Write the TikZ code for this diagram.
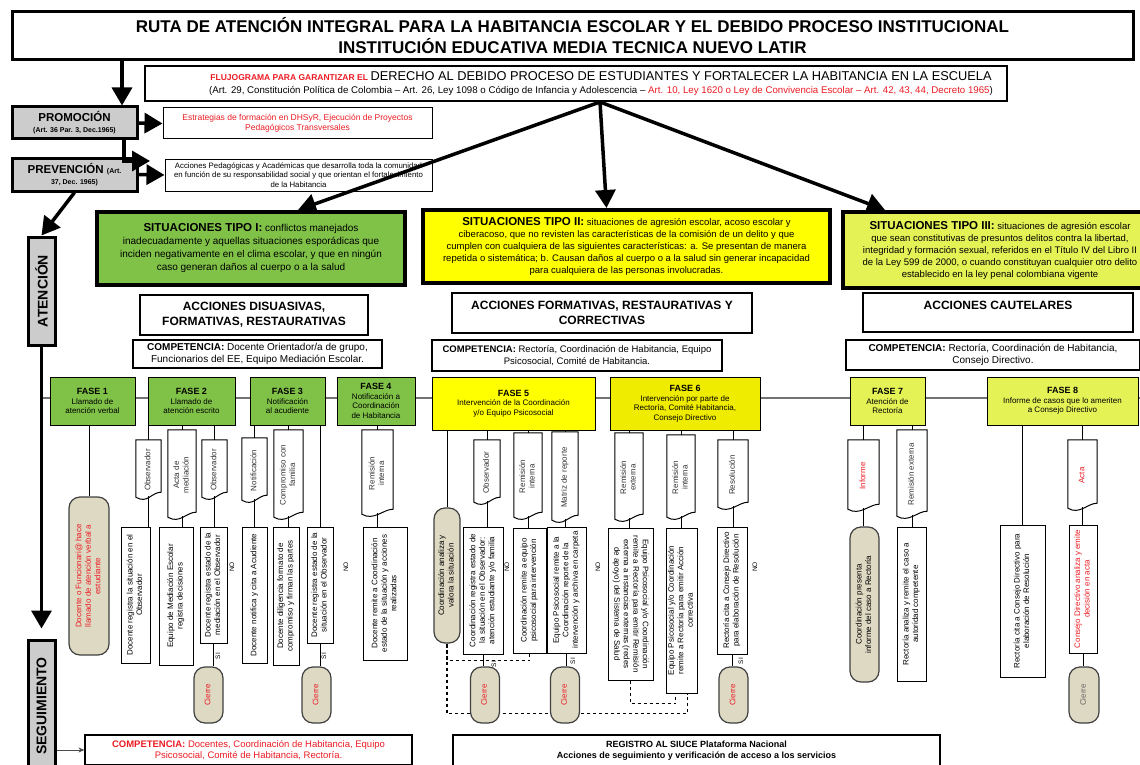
\documentclass[tikz,border=0pt]{standalone}
\usepackage{fontspec}
\setmainfont{Liberation Sans}
\usepackage{graphicx}
\usetikzlibrary{arrows.meta,positioning}

\definecolor{verde}{RGB}{128,194,72}
\definecolor{amarillo}{RGB}{255,255,0}
\definecolor{amarillob}{RGB}{240,236,0}
\definecolor{lima}{RGB}{228,242,86}
\definecolor{grisclaro}{RGB}{204,204,204}
\definecolor{tierra}{RGB}{221,217,195}
\definecolor{rojo}{RGB}{236,28,36}

\newcommand\vtxt[2][90]{\rotatebox{#1}{\begin{tabular}{@{}c@{}}#2\end{tabular}}}
\newcommand\ftit[1]{{\fontsize{9}{11}\selectfont\bfseries FASE #1}}

\tikzset{
	tam/.style 2 args={minimum width=#1,minimum height=#2},
	caja/.style={draw,align=center,inner sep=1pt},
	titulo/.style={caja,line width=3pt,font=\fontsize{17}{21}\selectfont\bfseries},
	gris/.style={caja,line width=3pt,fill=grisclaro},
	tipo/.style={caja,line width=4pt},
	accion/.style={caja,line width=1.3pt,font=\fontsize{12}{15}\selectfont\bfseries},
	compet/.style={caja,line width=1.3pt,font=\fontsize{10}{12}\selectfont},
	fase/.style={caja,line width=1pt,font=\fontsize{8}{9.5}\selectfont},
	vbox/.style={draw,line width=1pt,inner sep=0pt,font=\fontsize{8}{9.5}\selectfont},
	docu/.style={inner sep=0pt,text=black!80,font=\fontsize{8}{9.5}\selectfont},
	term/.style={draw=black!75,line width=1.2pt,fill=tierra,rounded corners=11pt,inner sep=0pt,font=\fontsize{8}{9.5}\selectfont},
	marca/.style={rotate=90,inner sep=0pt,font=\fontsize{6.5}{7}\selectfont},
	flecha/.style={line width=3.5pt,-{Triangle[length=18pt,width=20pt]}},
	enlace/.style={line width=1pt},
	punteada/.style={line width=1.2pt,dashed},
	fila/.style={line width=2.2pt,black!55},
}

\begin{document}
\begin{tikzpicture}[x=1pt,y=-1pt]
	\useasboundingbox (0,0) rectangle (1140,765);
	\fill[white] (0,0) rectangle (1140,765);

	\node[titulo,tam={1121}{48}] (titulo) at (572.5,36)
		{RUTA DE ATENCIÓN INTEGRAL PARA LA HABITANCIA ESCOLAR Y EL DEBIDO PROCESO INSTITUCIONAL\\
		INSTITUCIÓN EDUCATIVA MEDIA TECNICA NUEVO LATIR};
	\node[caja,line width=1.2pt,tam={862}{35}] (flujo) at (576,83.5) {};
	\node[align=center,inner sep=0pt,font=\fontsize{9.7}{13}\selectfont] (flujotxt) at (601,84)
		{{\color{rojo}\fontsize{8.5}{9}\selectfont\bfseries FLUJOGRAMA PARA GARANTIZAR EL}
		{\fontsize{12.8}{14}\selectfont DERECHO AL DEBIDO PROCESO DE ESTUDIANTES Y FORTALECER LA HABITANCIA EN LA ESCUELA}\\
		(Art. 29, Constitución Política de Colombia – Art. 26, Ley 1098 o Código de Infancia y Adolescencia – {\color{rojo}Art. 10, Ley 1620 o Ley de Convivencia Escolar – Art. 42, 43, 44, Decreto 1965})};

	\node[gris,tam={125}{32},font=\fontsize{11.5}{12}\selectfont\bfseries] (promo) at (74.5,123)
		{PROMOCIÓN\\[-1pt]{\fontsize{7}{8}\selectfont (Art. 36 Par. 3, Dec.1965)}};
	\node[caja,line width=1pt,tam={269}{31},text=rojo,font=\fontsize{8.5}{10.5}\selectfont] (estrat) at (297.5,123.5)
		{Estrategias de formación en DHSyR, Ejecución de Proyectos\\Pedagógicos Transversales};
	\node[gris,tam={125}{33},font=\fontsize{11.5}{12}\selectfont\bfseries] (prev) at (74.5,174.5)
		{PREVENCIÓN {\fontsize{7}{8}\selectfont(Art.}\\[-1pt]{\fontsize{7}{8}\selectfont 37, Dec. 1965)}};
	\node[caja,line width=1pt,tam={267}{32},font=\fontsize{7.8}{9.5}\selectfont] (prevacc) at (298.5,175)
		{Acciones Pedagógicas y Académicas que desarrolla toda la comunidad\\en función de su responsabilidad social y que orientan el fortalecimiento\\de la Habitancia};
	\node[gris,tam={27}{108}] (aten) at (41.5,291) {\rotatebox{90}{\fontsize{14}{15}\selectfont\bfseries ATENCIÓN}};
	\node[gris,tam={27}{132}] (segui) at (41.5,706) {\rotatebox{90}{\fontsize{14}{15}\selectfont\bfseries SEGUIMIENTO}};

	\node[tipo,fill=verde,tam={308}{73},font=\fontsize{10}{13}\selectfont] (tipo1) at (251,248.5)
		{{\fontsize{11.5}{13}\selectfont\bfseries SITUACIONES TIPO I:} conflictos manejados\\
		inadecuadamente y aquellas situaciones esporádicas que\\
		inciden negativamente en el clima escolar, y que en ningún\\
		caso generan daños al cuerpo o a la salud};
	\node[tipo,fill=amarillo,tam={407}{73},font=\fontsize{9.5}{12}\selectfont] (tipo2) at (626.5,246.5)
		{{\fontsize{11.5}{13}\selectfont\bfseries SITUACIONES TIPO II:} situaciones de agresión escolar, acoso escolar y\\
		ciberacoso, que no revisten las características de la comisión de un delito y que\\
		cumplen con cualquiera de las siguientes características: a. Se presentan de manera\\
		repetida o sistemática; b. Causan daños al cuerpo o a la salud sin generar incapacidad\\
		para cualquiera de las personas involucradas.};
	\node[tipo,fill=lima,tam={314}{76},font=\fontsize{9.5}{12}\selectfont] (tipo3) at (1000,250)
		{{\fontsize{11.5}{13}\selectfont\bfseries SITUACIONES TIPO III:} situaciones de agresión escolar\\
		que sean constitutivas de presuntos delitos contra la libertad,\\
		integridad y formación sexual, referidos en el Título IV del Libro II\\
		de la Ley 599 de 2000, o cuando constituyan cualquier otro delito\\
		establecido en la ley penal colombiana vigente};

	\node[accion,tam={228}{40}] (acc1) at (254,315) {ACCIONES DISUASIVAS,\\FORMATIVAS, RESTAURATIVAS};
	\node[accion,tam={300}{40}] (acc2) at (602,313) {ACCIONES FORMATIVAS, RESTAURATIVAS Y\\CORRECTIVAS};
	\node[accion,tam={270}{39}] (acc3) at (998,312.5) {ACCIONES CAUTELARES\\~};

	\node[compet,tam={249}{28}] (comp1) at (257.5,354)
		{\textbf{COMPETENCIA:} Docente Orientador/a de grupo,\\Funcionarios del EE, Equipo Mediación Escolar.};
	\node[compet,tam={290}{31},font=\fontsize{9.5}{12}\selectfont] (comp2) at (577,355.5)
		{\textbf{COMPETENCIA:} Rectoría, Coordinación de Habitancia, Equipo\\Psicosocial, Comité de Habitancia.};
	\node[compet,tam={294}{30}] (comp3) at (993,355)
		{\textbf{COMPETENCIA:} Rectoría, Coordinación de Habitancia,\\Consejo Directivo.};

	\coordinate (filaA) at (42,398);
	\coordinate (filaB) at (1140,398);
	\draw[fila] (filaA) -- (filaB);

	\node[fase,fill=verde,tam={85}{48}] (f1) at (92.5,401) {\ftit{1}\\Llamado de\\atención verbal};
	\node[fase,fill=verde,tam={87}{48}] (f2) at (191.5,401) {\ftit{2}\\Llamado de\\atención escrito};
	\node[fase,fill=verde,tam={75}{48}] (f3) at (287.5,401) {\ftit{3}\\Notificación\\al acudiente};
	\node[fase,fill=verde,tam={78}{48}] (f4) at (376,401) {\ftit{4}\\Notificación a\\Coordinación\\de Habitancia};
	\node[fase,fill=amarillo,tam={163}{53}] (f5) at (513.5,403.5) {\ftit{5}\\Intervención de la Coordinación\\y/o Equipo Psicosocial};
	\node[fase,fill=amarillob,tam={150}{53}] (f6) at (685,403.5) {\ftit{6}\\Intervención por parte de\\Rectoría, Comité Habitancia,\\Consejo Directivo};
	\node[fase,fill=lima,tam={75}{48}] (f7) at (887.5,401) {\ftit{7}\\Atención de\\Rectoría};
	\node[fase,fill=lima,tam={151}{48}] (f8) at (1062.5,401) {\ftit{8}\\Informe de casos que lo ameriten\\a Consejo Directivo};

	\node[term,tam={40}{158},text=rojo] (t1) at (89,576) {\vtxt{Docente o Funcionari@ hace\\llamado de atención verbal a\\estudiante}};

	\node[docu,tam={25}{60}] (d21) at (148.5,470) {\vtxt{Observador}};
	\node[docu,tam={28}{90}] (d22) at (182,475) {\vtxt{Acta de\\mediación}};
	\node[docu,tam={25}{60}] (d23) at (214.5,470) {\vtxt{Observador}};
	\node[vbox,tam={29}{136}] (r21) at (135.5,595) {\vtxt{Docente registra la situación en el\\Observador}};
	\node[vbox,tam={34}{138}] (r22) at (176,596) {\vtxt{Equipo de Mediación Escolar\\registra decisiones}};
	\node[vbox,tam={27}{116}] (r23) at (213.5,585) {\vtxt{Docente registra estado de la\\mediación en el Observador}};
	\node[marca] (no21) at (232,567) {NO};
	\node[marca] (si21) at (218,656) {SI};

	\node[docu,tam={25}{65}] (d31) at (254.5,470.5) {\vtxt{Notificación}};
	\node[docu,tam={29}{90}] (d32) at (288.5,475) {\vtxt{Compromiso con\\familia}};
	\node[vbox,tam={25}{136}] (r31) at (254.5,595) {\vtxt{Docente notifica y cita a Acudiente}};
	\node[vbox,tam={26}{138}] (r32) at (286,596) {\vtxt{Docente diligencia formato de\\compromiso y firman las partes}};
	\node[vbox,tam={26}{116}] (r33) at (320,585) {\vtxt{Docente registra estado de la\\situación en el Observador}};
	\node[marca] (no31) at (346,567) {NO};
	\node[marca] (si31) at (324,656) {SI};

	\node[docu,tam={31}{87}] (d41) at (377.5,473.5) {\vtxt{Remisión\\interna}};
	\node[vbox,tam={44}{133}] (r41) at (385,593.5) {\vtxt{Docente remite a Coordinación\\estado de la situación y acciones\\realizadas}};

	\node[term,tam={26}{135}] (t51) at (447,575.5) {\vtxt{Coordinación analiza y\\valora la situación}};
	\node[docu,tam={26}{65}] (d51) at (487,472.5) {\vtxt{Observador}};
	\node[docu,tam={28}{87}] (d52) at (528,476.5) {\vtxt{Remisión\\interna}};
	\node[docu,tam={26}{91}] (d53) at (565,477.5) {\vtxt{Matriz de reporte}};
	\node[vbox,tam={40}{127}] (r51) at (483,590.5) {\vtxt{Coordinación registra estado de\\la situación en el Observador:\\atención estudiante y/o familia}};
	\node[vbox,tam={33}{125}] (r52) at (529.5,590.5) {\vtxt{Coordinación remite a equipo\\psicosocial para intervención}};
	\node[vbox,tam={39}{126}] (r53) at (566.5,590) {\vtxt{Equipo Psicosocial remite a la\\Coordinación reporte de la\\intervención y archiva en carpeta}};
	\node[marca] (no51) at (507,567) {NO};
	\node[marca] (no52) at (598,567) {NO};
	\node[marca] (si51) at (494,664) {SI};
	\node[marca] (si52) at (573,661) {SI};

	\node[docu,tam={28}{89}] (d61) at (629,477.5) {\vtxt{Remisión\\externa}};
	\node[docu,tam={28}{85}] (d62) at (681,477.5) {\vtxt{Remisión\\interna}};
	\node[docu,tam={30}{70}] (d63) at (733,475) {\vtxt{Resolución}};
	\node[vbox,tam={45}{152}] (r61) at (630.5,604) {\vtxt[-90]{Equipo Psicosocial y/o Coordinación\\remite a Rectoría para emitir Remisión\\externa a instancias externas (redes\\de apoyo) del Sistema de Salud}};
	\node[vbox,tam={31}{165}] (r62) at (681.5,610.5) {\vtxt{Equipo Psicosocial y/o Coordinación\\remite a Rectoría para emitir Acción\\correctiva}};
	\node[vbox,tam={30}{127}] (r63) at (732,590.5) {\vtxt{Rectoría cita a Consejo Directivo\\para elaboración de Resolución}};
	\node[marca] (no61) at (755,567) {NO};
	\node[marca] (si61) at (741,661) {SI};

	\node[docu,tam={31}{72},text=rojo] (d71) at (863.5,476) {\vtxt{Informe}};
	\node[docu,tam={30}{89}] (d72) at (912,474.5) {\vtxt{Remisión externa}};
	\node[term,tam={29}{155}] (t71) at (864.5,604.5) {\vtxt{Coordinación presenta\\informe del caso a Rectoría}};
	\node[vbox,tam={29}{154}] (r71) at (911.5,604) {\vtxt{Rectoría analiza y remite el caso a\\autoridad competente}};

	\node[vbox,tam={45}{152}] (r81) at (1022.5,601) {\vtxt{Rectoría cita a Consejo Directivo para\\elaboración de Resolución}};
	\node[docu,tam={29}{71},text=rojo] (d81) at (1082.5,475.5) {\vtxt{Acta}};
	\node[vbox,tam={28}{128},text=rojo] (r82) at (1083,589) {\vtxt{Consejo Directivo analiza y emite\\decisión en acta}};

	\foreach \d in {d21,d22,d23,d31,d32,d41,d51,d52,d53,d61,d62,d63,d71,d72,d81}
		\draw[enlace] (\d.north west) -- (\d.north east) -- ([yshift=8pt]\d.south east)
			.. controls ([xshift=-10pt,yshift=8pt]\d.south east) and ([xshift=12pt,yshift=-4pt]\d.south west) .. ([yshift=3pt]\d.south west) -- cycle;

	\foreach \a/\b in {f1/t1,f2/d21,f2/d22,f2/d23,f3/d31,f3/d32,f3/r33,f4/d41,f5/t51,f5/d51,f5/d52,f5/d53,f6/d61,f6/d62,f6/d63,f7/d71,f7/d72,f8/r81,f8/d81}
		\draw[enlace] (\b.north |- \a.south) -- (\b.north);
	\foreach \a/\b in {d21/r21,d22/r22,d23/r23,d31/r31,d32/r32,d41/r41,d51/r51,d52/r52,d53/r53,d61/r61,d62/r62,d63/r63,d71/t71,d72/r71,d81/r82}
		\draw[enlace] ([yshift=4pt]\a.south) -- (\a.south |- \b.north);

	\draw[punteada] (r52.south) -- ++(0,7) -| (t51.south);
	\draw[punteada] (t51.south) -- ++(0,70) -| ([xshift=6pt]r62.south);
	\draw[punteada] (r61.south) -- ++(0,23) -| ([xshift=-6pt]r62.south);

	\foreach \n/\x in {c21/208.5,c31/316.5,c51/485,c52/565,c61/733.5}
		\node[term,tam={29}{56},text=rojo] (\n) at (\x,695) {\vtxt{Cierre}};
	\node[term,tam={30}{56},text=black!60] (c81) at (1084,695) {\vtxt{Cierre}};
	\foreach \a/\b in {r23/c21,r33/c31,r51/c51,r53/c52,r63/c61,r82/c81}
		\draw[enlace] (\a.south) -- (\a.south |- \b.north);

	\node[caja,line width=1.2pt,tam={327}{30},text=rojo,font=\fontsize{9.5}{11.5}\selectfont] (comp4) at (248.5,750)
		{\textbf{COMPETENCIA:} Docentes, Coordinación de Habitancia, Equipo\\Psicosocial, Comité de Habitancia, Rectoría.};
	\node[caja,line width=1.2pt,tam={487}{31},font=\fontsize{9}{11.5}\selectfont\bfseries] (registro) at (696.5,750.5)
		{REGISTRO AL SIUCE Plataforma Nacional\\Acciones de seguimiento y verificación de acceso a los servicios};

	\coordinate (fork) at (600,102);
	\coordinate (pv) at (150,161);
	\draw[flecha] (titulo.south -| 122,0) -- (promo.north -| 122,0);
	\draw[flecha] (promo.east) -- (estrat.west);
	\draw[flecha] (promo.south -| 124,0) |- (pv);
	\draw[flecha] (prev.east) -- (prevacc.west);
	\draw[flecha] (prev.south) -- (aten.north);
	\draw[flecha,shorten >=10pt] (aten.south) -- (segui.north);
	\draw[flecha] (fork) -- ([xshift=47pt]tipo1.north);
	\draw[flecha] (fork) -- ([xshift=-20pt]tipo2.north);
	\draw[flecha] (fork) -- ([xshift=-115pt]tipo3.north);
	\draw[line width=0.8pt,black!70,-{Stealth[length=6pt,width=5pt]}] (segui.east |- comp4.west) -- (comp4.west);
\end{tikzpicture}
\end{document}
